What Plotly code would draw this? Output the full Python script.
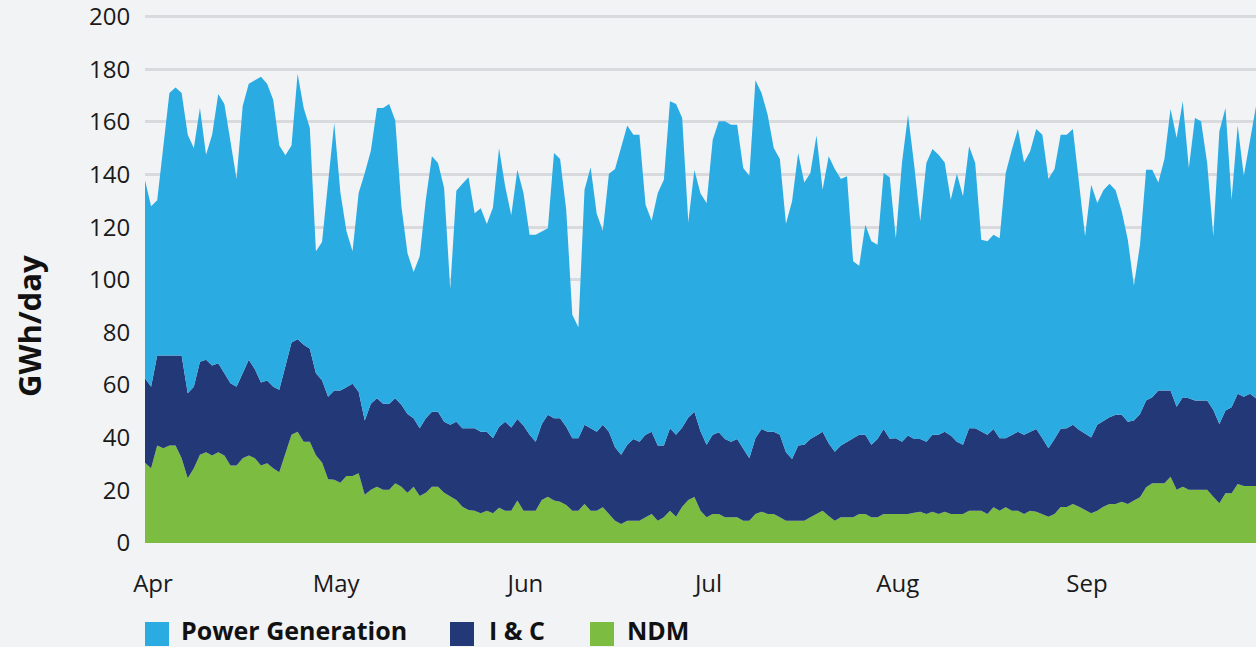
import pandas as pd
import plotly.graph_objects as go

# Daily dates, 1 Apr - 30 Sep
dates = pd.date_range("2019-04-01", "2019-09-30", freq="D")

# GWh/day
ndm = [
    30.5, 28.4, 37.0, 36.0, 37.0, 37.0, 32.2, 24.6, 28.4, 33.5,
    34.5, 33.2, 34.5, 33.2, 29.4, 29.4, 32.2, 33.2, 32.2, 29.4,
    30.3, 28.4, 26.9, 34.1, 41.1, 42.3, 38.5, 38.5, 33.3, 30.6,
    24.2, 24.0, 22.9, 25.5, 25.5, 26.5, 18.3, 20.2, 21.4, 20.2,
    20.2, 22.7, 21.4, 19.1, 21.4, 17.9, 19.1, 21.4, 21.4, 19.1,
    17.6, 16.3, 13.8, 12.5, 12.3, 11.3, 12.3, 11.3, 13.4, 12.3,
    12.3, 16.1, 12.3, 12.3, 12.3, 16.3, 17.6, 16.1, 15.7, 14.4,
    12.3, 12.3, 14.8, 12.3, 12.3, 13.6, 11.0, 8.5, 7.2, 8.5,
    8.5, 8.5, 9.8, 11.0, 8.5, 9.8, 12.3, 10.0, 13.8, 16.3,
    17.5, 12.3, 9.8, 11.0, 11.0, 9.8, 9.8, 9.8, 8.5, 8.5,
    11.0, 11.9, 11.0, 11.0, 9.8, 8.5, 8.5, 8.5, 8.5, 9.8,
    11.0, 12.3, 10.3, 8.5, 9.8, 9.8, 9.8, 11.0, 11.0, 9.8,
    9.8, 11.0, 11.0, 11.0, 11.0, 11.0, 11.5, 11.9, 11.0, 11.9,
    11.0, 11.9, 11.0, 11.0, 11.0, 12.3, 12.3, 12.3, 11.0, 13.6,
    12.3, 13.6, 12.3, 12.3, 11.0, 12.3, 11.9, 11.0, 10.0, 11.0,
    13.7, 13.7, 14.8, 13.8, 12.5, 11.3, 12.3, 13.8, 14.8, 14.8,
    15.7, 14.8, 16.1, 17.4, 21.2, 22.7, 22.7, 22.7, 25.2, 20.2,
    21.4, 20.2, 20.2, 20.2, 20.2, 17.6, 15.1, 18.9, 18.9, 22.4,
    21.7, 21.7, 21.7,
]

i_and_c = [
    32.1, 31.0, 34.2, 35.2, 34.2, 34.2, 39.0, 32.3, 31.0, 35.4,
    35.1, 34.2, 33.8, 31.3, 31.3, 30.0, 32.3, 36.4, 33.8, 31.6,
    31.4, 31.0, 31.3, 32.9, 35.1, 35.1, 36.8, 35.3, 31.2, 31.2,
    31.4, 33.9, 35.0, 33.7, 35.0, 31.0, 28.2, 32.7, 33.6, 32.7,
    32.7, 32.3, 31.1, 29.9, 26.0, 25.7, 28.3, 28.5, 28.5, 27.0,
    27.3, 29.8, 29.8, 31.1, 31.3, 31.0, 30.0, 28.5, 30.8, 33.8,
    31.6, 31.0, 32.3, 28.8, 26.2, 28.9, 31.1, 31.3, 31.7, 29.8,
    27.5, 27.5, 30.1, 31.3, 30.0, 31.3, 31.3, 27.9, 26.3, 28.8,
    31.0, 30.0, 31.3, 31.3, 28.5, 27.2, 31.3, 31.1, 30.1, 31.4,
    32.4, 30.2, 27.5, 30.1, 31.1, 29.7, 28.7, 29.7, 27.5, 23.7,
    28.8, 31.4, 31.3, 31.3, 31.3, 26.0, 23.4, 28.5, 28.8, 29.7,
    29.8, 30.0, 27.6, 26.2, 27.2, 28.5, 29.7, 30.1, 30.1, 27.5,
    29.7, 32.3, 28.6, 28.8, 27.5, 29.8, 28.0, 27.6, 27.5, 29.2,
    30.1, 30.4, 29.8, 27.5, 26.3, 31.3, 31.3, 30.0, 30.1, 29.7,
    27.5, 26.2, 28.8, 30.0, 30.1, 30.0, 31.4, 28.8, 26.0, 28.5,
    29.7, 29.9, 30.1, 29.2, 28.9, 28.8, 32.6, 32.7, 33.0, 33.9,
    33.0, 31.3, 30.4, 31.6, 32.9, 32.7, 35.2, 35.2, 32.7, 31.6,
    34.0, 34.8, 33.9, 33.9, 33.9, 33.0, 30.1, 31.4, 32.7, 34.3,
    33.9, 35.0, 33.3,
]

power_generation = [
    75.2, 68.5, 59.0, 78.2, 99.8, 101.9, 99.8, 98.2, 90.7, 96.4,
    77.9, 87.7, 102.3, 102.3, 91.3, 78.9, 101.4, 104.9, 109.8, 116.1,
    112.8, 109.0, 92.8, 80.3, 74.8, 100.9, 90.0, 83.9, 46.3, 52.6,
    81.5, 101.7, 75.4, 59.2, 50.3, 75.5, 94.1, 96.1, 110.3, 112.4,
    113.9, 105.5, 75.4, 61.1, 55.6, 65.3, 83.0, 97.0, 94.5, 88.8,
    51.6, 87.7, 92.9, 95.4, 81.7, 84.9, 78.9, 87.7, 105.8, 89.4,
    80.6, 94.7, 88.4, 76.0, 78.6, 73.2, 70.9, 100.8, 98.5, 82.4,
    46.9, 42.2, 89.3, 99.2, 82.8, 73.7, 98.0, 105.7, 116.9, 121.3,
    115.6, 116.6, 87.4, 80.1, 96.0, 101.0, 124.2, 125.7, 117.6, 74.3,
    91.8, 90.3, 91.9, 112.1, 118.1, 120.7, 120.4, 119.4, 106.5, 107.3,
    136.0, 127.7, 120.4, 107.8, 104.8, 86.8, 97.9, 111.2, 99.7, 101.1,
    114.0, 91.9, 109.0, 107.4, 101.3, 101.0, 67.5, 64.2, 79.8, 77.3,
    73.8, 97.3, 99.4, 76.0, 105.9, 121.9, 104.2, 82.7, 105.9, 108.6,
    106.4, 102.3, 89.6, 101.8, 94.4, 107.1, 100.8, 72.9, 73.5, 73.8,
    76.0, 100.8, 108.3, 115.0, 103.5, 106.5, 114.0, 115.3, 102.3, 102.6,
    111.7, 111.5, 112.4, 94.4, 75.1, 96.0, 84.3, 87.5, 88.7, 85.3,
    77.3, 69.1, 51.3, 64.3, 87.7, 86.4, 79.1, 88.0, 107.0, 102.1,
    112.4, 87.5, 107.4, 106.1, 90.3, 65.9, 111.2, 115.0, 78.8, 101.9,
    83.9, 96.0, 110.9,
]

series_names = ["Power Generation", "I & C", "NDM"]
series_colors = ["#2aabe2", "#233876", "#7cbd41"]
month_ticks = ["2019-04-01", "2019-05-01", "2019-06-01", "2019-07-01", "2019-08-01", "2019-09-01"]
month_labels = ["Apr", "May", "Jun", "Jul", "Aug", "Sep"]
y_ticks = [0, 20, 40, 60, 80, 100, 120, 140, 160, 180, 200]

W, H = 1256, 647
ML, MR, MT, MB = 145, 0, 15, 104
PW, PH = W - ML - MR, H - MT - MB
Y_MAX = 200.6

fig = go.Figure()
# stacked bottom-up: NDM, I & C, Power Generation
for name, vals, col in [("NDM", ndm, series_colors[2]),
                        ("I & C", i_and_c, series_colors[1]),
                        ("Power Generation", power_generation, series_colors[0])]:
    fig.add_trace(go.Scatter(
        x=dates, y=vals, name=name, mode="lines", stackgroup="one",
        line=dict(width=0, color=col), fillcolor=col, showlegend=False,
    ))

def px_x(p):
    return (p - ML) / PW

def px_y(p):
    return (H - MB - p) / PH

# legend built from shapes and text
legend_items = [("Power Generation", series_colors[0], 145, 180),
                ("I & C", series_colors[1], 450, 488),
                ("NDM", series_colors[2], 590, 626)]
shapes, annotations = [], []
for name, col, sx, tx in legend_items:
    shapes.append(dict(type="rect", xref="paper", yref="paper",
                       x0=px_x(sx), x1=px_x(sx + 24), y0=px_y(646), y1=px_y(622),
                       fillcolor=col, line=dict(width=0)))
    annotations.append(dict(text=f"<b>{name}</b>", xref="paper", yref="paper",
                            x=px_x(tx), y=px_y(630), xanchor="left", yanchor="middle",
                            showarrow=False, borderpad=0,
                            font=dict(family="Open Sans", size=25, color="#111111")))

annotations.append(dict(text="<b>GWh/day</b>", xref="paper", yref="paper",
                        x=px_x(29), y=px_y(326), xanchor="center", yanchor="middle",
                        textangle=-90, showarrow=False,
                        font=dict(family="Open Sans", size=31, color="#111111")))

fig.update_layout(
    width=W, height=H,
    margin=dict(l=ML, r=MR, t=MT, b=MB, pad=0),
    paper_bgcolor="#f2f3f5", plot_bgcolor="#f2f3f5",
    font=dict(family="Open Sans", size=24, color="#1a1a1a"),
    shapes=shapes, annotations=annotations,
    xaxis=dict(
        range=[dates[0], dates[-1]],
        tickvals=month_ticks, ticktext=month_labels,
        ticks="outside", ticklen=19, tickcolor="rgba(0,0,0,0)",
        ticklabelshift=8,
        showgrid=False, zeroline=False, showline=False,
        tickfont=dict(family="Open Sans", size=24, color="#1a1a1a"),
    ),
    yaxis=dict(
        range=[0, Y_MAX], tickvals=y_ticks,
        showgrid=True, gridcolor="#d9dadd", gridwidth=3,
        zeroline=False, showline=False,
        ticks="outside", ticklen=9, tickcolor="rgba(0,0,0,0)",
        ticklabeloverflow="allow",
        tickfont=dict(family="Open Sans", size=24, color="#1a1a1a"),
    ),
    hovermode=False,
)

fig.write_html(
    "out.html",
    config={"displayModeBar": False},
    post_script="document.body.style.margin='0';document.body.style.background='#f2f3f5';",
)
